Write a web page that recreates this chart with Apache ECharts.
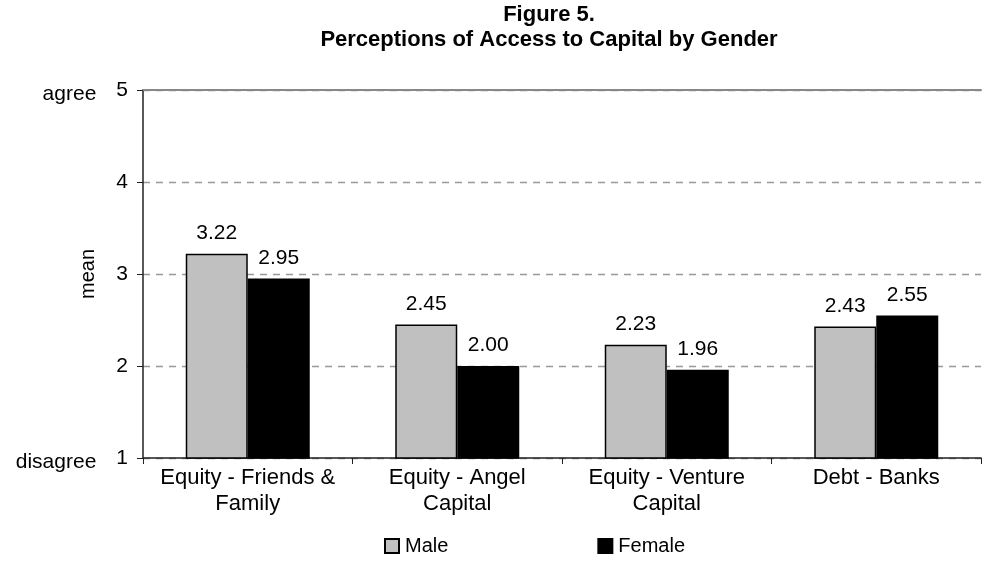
<!DOCTYPE html>
<html>
<head>
<meta charset="utf-8">
<script src="https://cdn.jsdelivr.net/npm/echarts@6/dist/echarts.min.js"></script>
<style>
  html, body { margin: 0; padding: 0; background: #fff; }
  #chart { width: 985px; height: 570px; }
</style>
</head>
<body>
<div id="chart"></div>
<script>
const categories = ['Equity - Friends &\nFamily', 'Equity - Angel\nCapital', 'Equity - Venture\nCapital', 'Debt - Banks']
const maleValues = [3.22, 2.45, 2.23, 2.43]
const femaleValues = [2.95, 2.00, 1.96, 2.55]
const scaleWords = { 5: 'agree', 1: 'disagree' }

const font = 'Liberation Sans, Arial, sans-serif'
const chart = echarts.init(document.getElementById('chart'))

const labelStyle = {
  show: true, position: 'top', distance: 10,
  color: '#000', fontSize: 21, fontFamily: font,
  formatter: (p) => p.value.toFixed(2),
}

chart.setOption({
  animation: false,
  title: {
    text: 'Figure 5.\nPerceptions of Access to Capital by Gender',
    left: 544, top: -3, textAlign: 'center',
    textStyle: { fontSize: 22, fontWeight: 'bold', fontFamily: font, color: '#000', lineHeight: 25 },
  },
  legend: {
    left: 379, top: 531, itemWidth: 14, itemHeight: 14, itemGap: 149,
    icon: 'rect',
    textStyle: { fontSize: 20, fontFamily: font, color: '#000', padding: [0, 0, 0, 1] },
    data: ['Male', 'Female'],
  },
  grid: { left: 143, right: 4, top: 90, bottom: 112, outerBoundsMode: 'none' },
  xAxis: [
    {
      type: 'category', data: categories,
      axisLine: { lineStyle: { color: '#222', width: 1.5 } },
      axisTick: { show: true, length: 6, lineStyle: { color: '#222' } },
      axisLabel: { color: '#000', fontSize: 22, fontFamily: font, lineHeight: 26, margin: 7, interval: 0 },
    },
    {
      type: 'category', data: categories, position: 'top',
      axisLine: { lineStyle: { color: '#888', width: 2 } },
      axisTick: { show: false }, axisLabel: { show: false },
    },
  ],
  yAxis: {
    type: 'value', min: 1, max: 5, interval: 1,
    name: 'mean', nameLocation: 'middle', nameGap: 45, nameRotate: 90, nameMoveOverlap: false,
    nameTextStyle: { fontSize: 20, fontFamily: font, color: '#000' },
    axisLine: { show: true, lineStyle: { color: '#222', width: 1.5 } },
    axisTick: { show: true, length: 6, lineStyle: { color: '#222' } },
    splitLine: { lineStyle: { color: '#999', type: [7, 6], width: 1.3 } },
    axisLabel: {
      margin: 15, color: '#000', fontSize: 21, fontFamily: font,
      formatter: (v) => scaleWords[v] ? `{w|${scaleWords[v]}}{n|${v}}` : `{n|${v}}`,
      rich: {
        w: { fontSize: 21, fontFamily: font, color: '#000', padding: [8, 0, 0, 0] },
        n: { fontSize: 21, fontFamily: font, color: '#000', padding: [0, 0, 0, 20] },
      },
    },
  },
  series: [
    {
      name: 'Male', type: 'bar', data: maleValues, barWidth: 62, barGap: '0%',
      itemStyle: { color: '#c0c0c0', borderColor: '#000', borderWidth: 1.5 },
      label: labelStyle,
    },
    {
      name: 'Female', type: 'bar', data: femaleValues, barWidth: 62,
      itemStyle: { color: '#000', borderColor: '#000', borderWidth: 1.5 },
      label: labelStyle,
    },
  ],
})
</script>
</body>
</html>
